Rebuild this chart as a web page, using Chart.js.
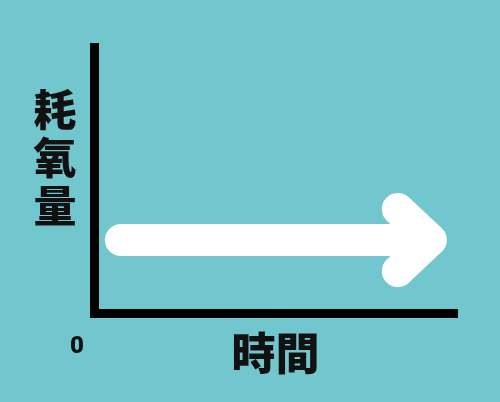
<!DOCTYPE html>
<html><head><meta charset="utf-8">
<script src="https://cdn.jsdelivr.net/npm/chart.js@4/dist/chart.umd.min.js"></script>
<style>
html,body{margin:0;padding:0;background:#72c7cf;}
#wrap{width:500px;height:402px;position:relative;}
</style></head>
<body><div id="wrap"><canvas id="c" width="500" height="402"></canvas></div>
<script>
// Data (arbitrary units 0..100)
const xTitle = '時間';
const yTitle = ['耗', '氧', '量'];
const originLabel = '0';
const shaftX = [7.4, 92.5];
const shaftY = [27.6, 27.6];
const headX = [83.7, 92.8, 83.7];
const headY = [39.2, 27.6, 15.9];

const stackedYTitle = {
  id: 'stackedYTitle',
  afterDraw(chart) {
    const ctx = chart.ctx;
    ctx.save();
    ctx.fillStyle = '#111';
    ctx.font = '900 43px "Noto Sans CJK TC"';
    ctx.textAlign = 'center';
    ctx.textBaseline = 'middle';
    const cx = 55, y0 = 110, step = 48;
    yTitle.forEach((ch, i) => ctx.fillText(ch, cx, y0 + i * step));
    ctx.restore();
  }
};

new Chart(document.getElementById('c'), {
  type: 'scatter',
  data: {
    datasets: [
      { data: shaftX.map((x, i) => ({x, y: shaftY[i]})), showLine: true,
        borderColor: '#ffffff', borderWidth: 32, borderCapStyle: 'round', borderJoinStyle: 'round',
        pointRadius: 0, fill: false },
      { data: headX.map((x, i) => ({x, y: headY[i]})), showLine: true,
        borderColor: '#ffffff', borderWidth: 32, borderCapStyle: 'round', borderJoinStyle: 'round',
        pointRadius: 0, fill: false }
    ]
  },
  options: {
    responsive: false, animation: false,
    layout: { padding: { left: 94, top: 47, right: 43, bottom: 0 } },
    plugins: { legend: { display: false }, tooltip: { enabled: false } },
    scales: {
      x: {
        type: 'linear', min: 0, max: 100,
        afterFit(s) { s.height = 88.5; },
        grid: { display: false, drawTicks: false },
        border: { display: true, color: '#000', width: 9 },
        ticks: {
          autoSkip: false, stepSize: 100, maxRotation: 0,
          callback: v => v === 0 ? originLabel : '',
          color: '#111', font: { size: 24, weight: '900', family: 'Roboto' },
          labelOffset: -17, padding: 19
        },
        title: { display: true, text: xTitle, color: '#111',
          font: { size: 44, weight: '900', family: '"Noto Sans CJK TC"' }, padding: { top: 0, bottom: 22 } }
      },
      y: {
        type: 'linear', min: 0, max: 100,
        afterFit(s) { s.width = 0; },
        grid: { display: false, drawTicks: false },
        border: { display: true, color: '#000', width: 9 },
        ticks: { display: false },
        title: { display: false }
      }
    }
  },
  plugins: [stackedYTitle]
});
</script></body></html>
